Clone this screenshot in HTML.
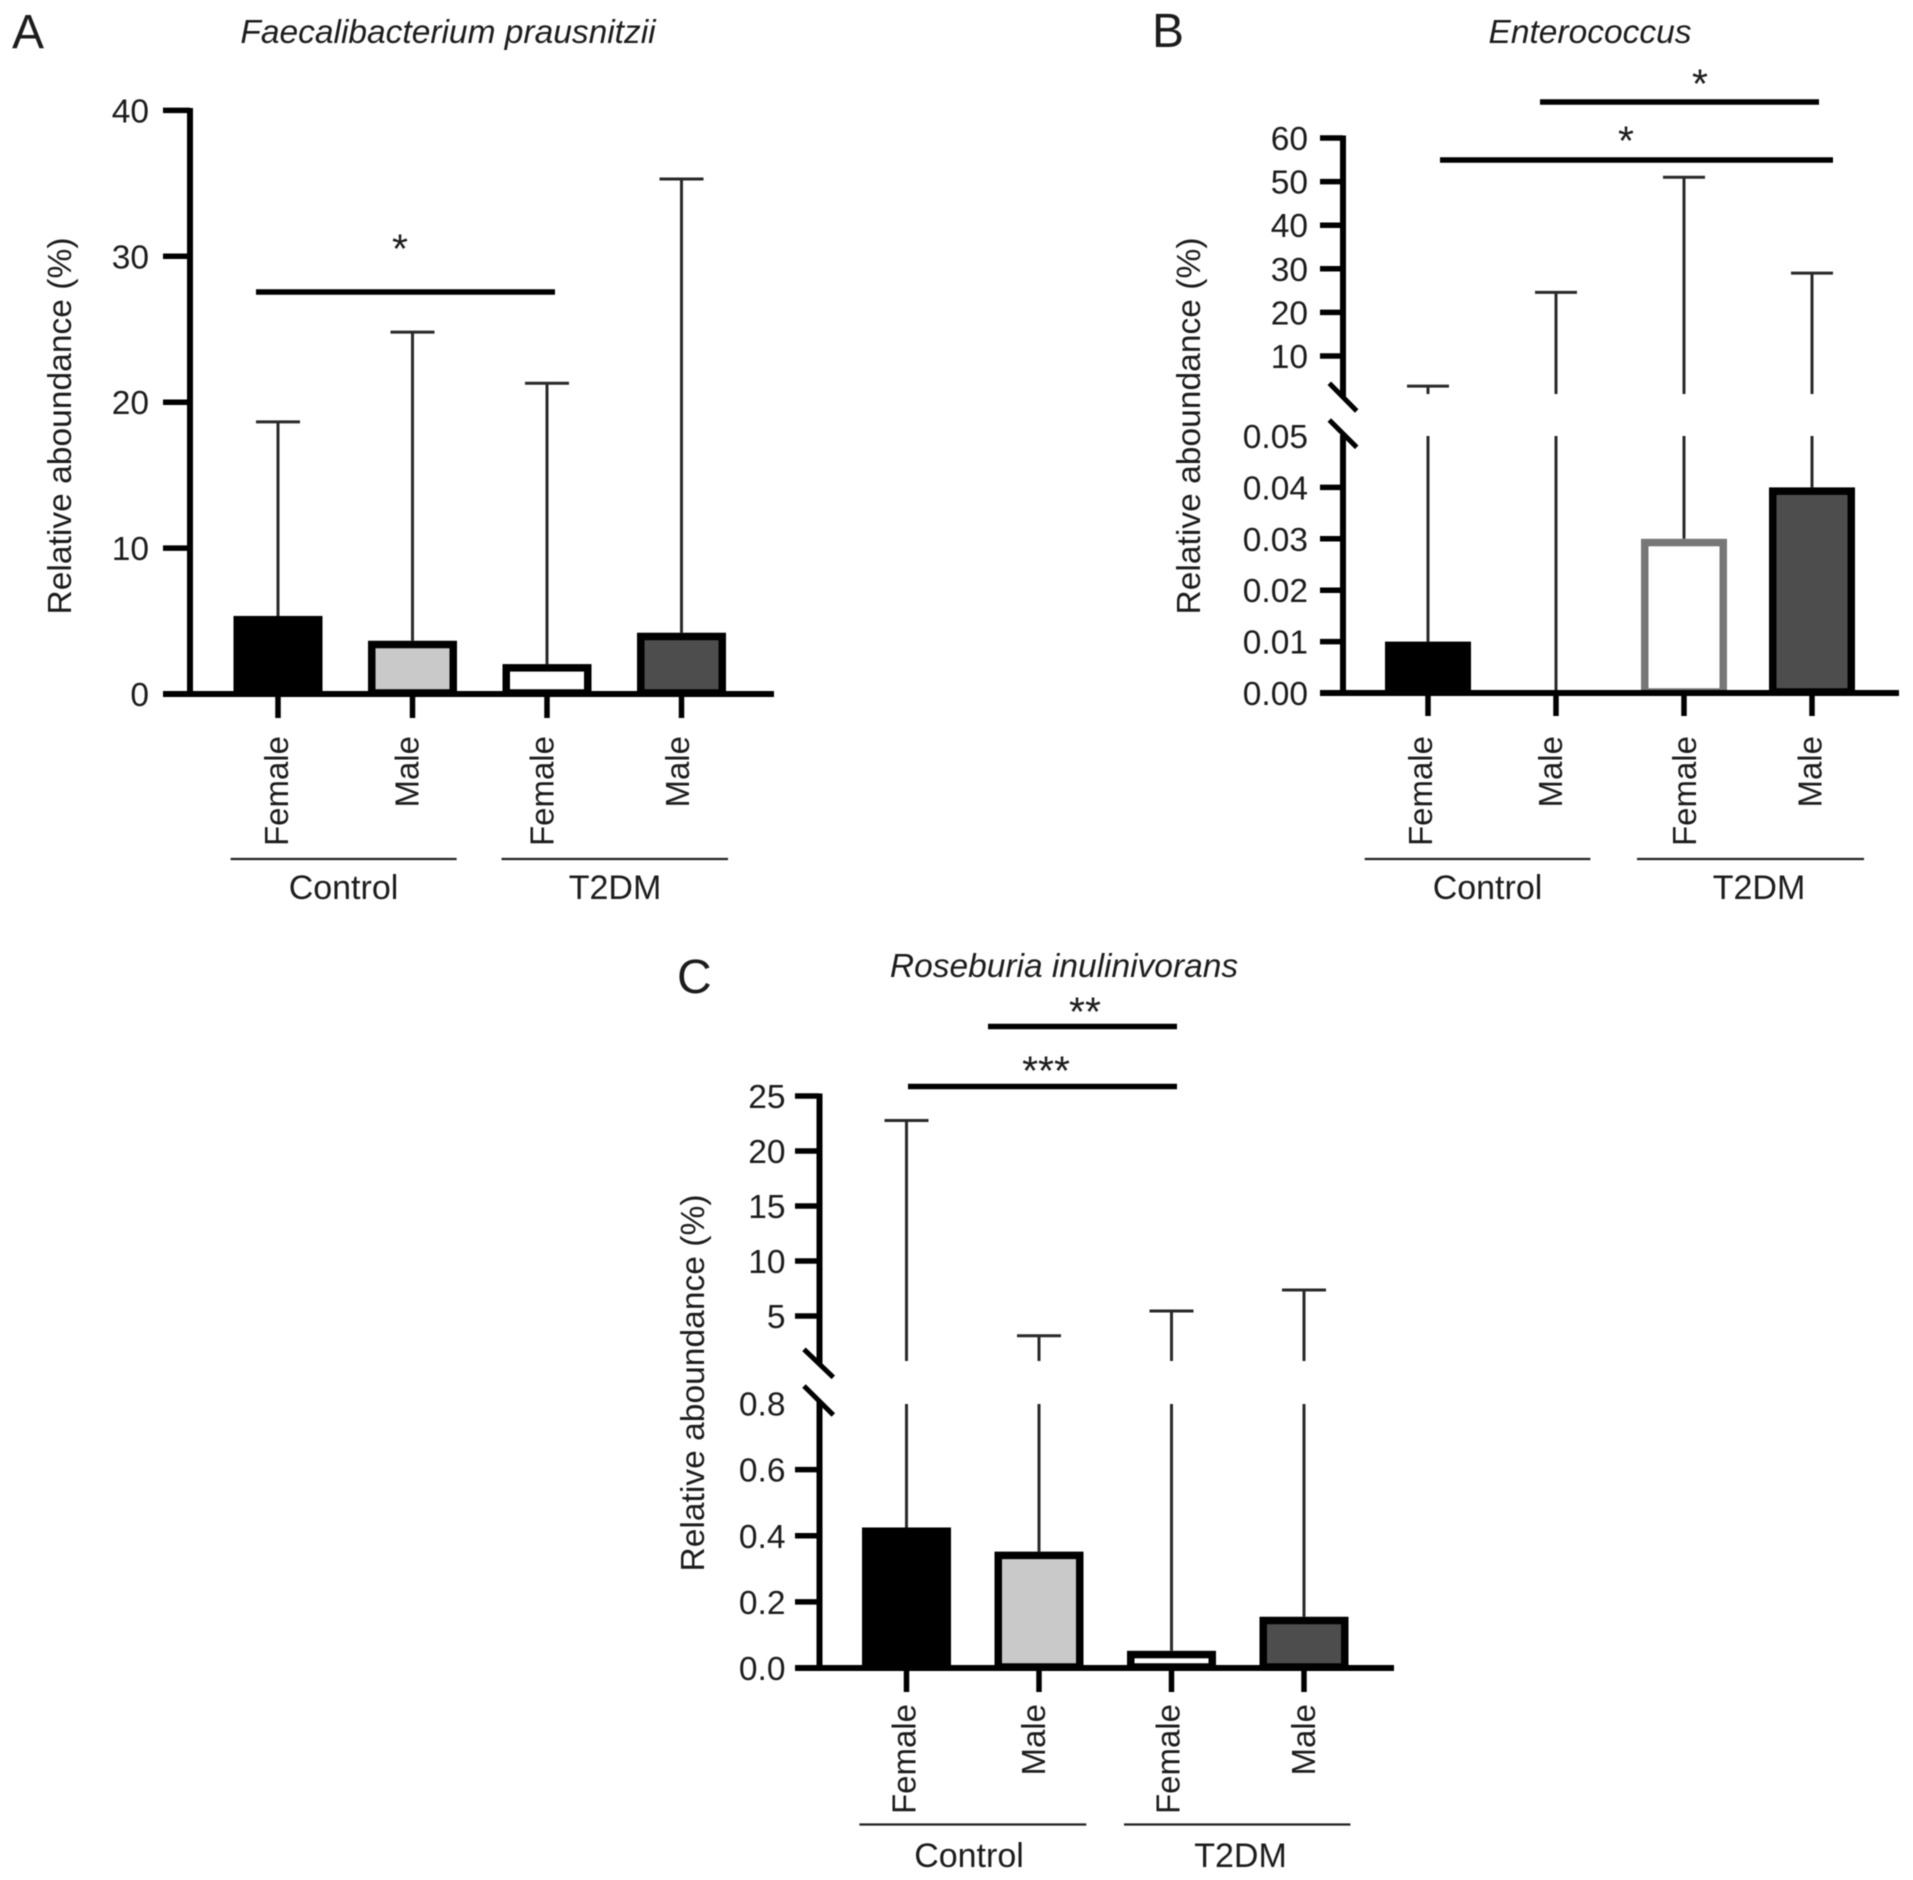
<!DOCTYPE html>
<html lang="en">
<head>
<meta charset="utf-8">
<title>Relative abundance bar charts</title>
<style>
html,body{margin:0;padding:0;background:#fff;}
svg{display:block;filter:blur(0.45px);}
text{font-family:"Liberation Sans",Arial,sans-serif;fill:#1c1c1c;}
</style>
</head>
<body>
<svg id="figure" xmlns="http://www.w3.org/2000/svg" width="1913" height="1880" viewBox="0 0 1913 1880"></svg>
<script>
// ---- data ----
const categories = ['Female', 'Male', 'Female', 'Male'];
const groupNames = ['Control', 'T2DM'];
const yAxisTitle = 'Relative aboundance (%)';

const aMeans = [5.35, 3.65, 2.05, 4.2];
const aUppers = [18.65, 24.8, 21.3, 35.3];
const aTickLabels = ['0', '10', '20', '30', '40'];

const bMeans = [0.01, 0, 0.03, 0.04];
const bUppers = [3.1, 24.6, 51, 29];
const bLowerTickLabels = ['0.00', '0.01', '0.02', '0.03', '0.04', '0.05'];
const bUpperTickLabels = ['10', '20', '30', '40', '50', '60'];

const cMeans = [0.425, 0.352, 0.052, 0.155];
const cUppers = [22.77, 3.2, 5.45, 7.36];
const cLowerTickLabels = ['0.0', '0.2', '0.4', '0.6', '0.8'];
const cUpperTickLabels = ['5', '10', '15', '20', '25'];

// ---- helpers ----
const svg = document.getElementById('figure');
const NS = 'http://www.w3.org/2000/svg';
function mk(parent, tag, attrs, txt) {
  const el = document.createElementNS(NS, tag);
  for (const k in attrs) el.setAttribute(k, attrs[k]);
  if (txt !== undefined) el.textContent = txt;
  parent.appendChild(el);
  return el;
}
function line(parent, x1, y1, x2, y2, w, color) {
  return mk(parent, 'line', {x1: x1, y1: y1, x2: x2, y2: y2, stroke: color, 'stroke-width': w});
}

function linearScale(value0, pixel0, value1, pixel1) {
  return function (v) { return pixel0 + (v - value0) * (pixel1 - pixel0) / (value1 - value0); };
}
function brokenScale(lowerFn, upperFn, lowerMax) {
  return function (v) { return v <= lowerMax ? lowerFn(v) : upperFn(v); };
}

function drawPanel(p) {
  const g = mk(svg, 'g', {});
  
  

  const letter = mk(g, 'text', {x: p.letter[0], y: p.letter[1], 'font-size': 48}, p.letter[2]);
  
  

  const title = mk(g, 'text', {x: p.title[0], y: p.title[1], 'font-size': 33.5, 'font-style': 'italic', 'text-anchor': 'middle'}, p.title[2]);
  
  

  const yTitle = mk(g, 'text', {transform: 'translate(' + p.yTitle[0] + ',' + p.yTitle[1] + ') rotate(-90)', 'font-size': 33.6, 'text-anchor': 'middle'}, yAxisTitle);
  
  

  const y = p.y;
  const y0 = y(0);

  // whiskers
  p.means.forEach(function (mean, i) {
    const cx = p.x(i);
    const up = p.uppers[i];
    if (p.breakLowerValue !== undefined && up > p.breakLowerValue) {
      const lo = line(g, cx, y(mean), cx, p.lowerSegTop, 3, '#2a2a2a');
      
      
      const hi = line(g, cx, p.upperSegBottom, cx, y(up), 3, '#2a2a2a');
      
      
    } else {
      const whisker = line(g, cx, y(mean), cx, y(up), 3, '#2a2a2a');
      
      
    }
    const cap = line(g, cx - p.capW / 2, y(up), cx + p.capW / 2, y(up), 3, '#2a2a2a');
    
    
  });

  // bars
  p.means.forEach(function (mean, i) {
    const cx = p.x(i);
    const sw = 7.5;
    const top = y(mean) + sw / 2;
    const h = Math.max(0, y0 - 1 - top);
    const bar = mk(g, 'rect', {
      x: cx - p.barW / 2 + sw / 2, y: top, width: p.barW - sw, height: mean > 0 ? h : 0,
      fill: p.fills[i], stroke: p.strokes[i], 'stroke-width': sw
    });
    
    
  });

  // x axis + ticks + rotated labels
  const xAxis = line(g, p.xAxis[0], y0, p.xAxis[1], y0, 6, '#000');
  
  
  categories.forEach(function (cat, i) {
    const cx = p.x(i);
    const t = line(g, cx, y0, cx, y0 + p.xTickLen, 5.5, '#000');
    
    
    const lab = mk(g, 'text', {
      transform: 'translate(' + p.labelX[i] + ',' + p.labelTop + ') rotate(-90)',
      'font-size': 33, 'text-anchor': 'end'
    }, cat);
    
    
  });

  // group brackets
  groupNames.forEach(function (name, i) {
    const b = p.groups[i];
    const gl = line(g, b[0], p.groupY, b[1], p.groupY, 2.2, '#222');
    
    
    const gt = mk(g, 'text', {x: b[2], y: p.groupTextY, 'font-size': 34, 'text-anchor': 'middle'}, name);
    
    
  });

  // y axis
  p.axisSegments.forEach(function (s) {
    const seg = line(g, p.axisX, s[0], p.axisX, s[1], 6, '#000');
    
    
  });
  p.tickLabels.forEach(function (label) {
    const v = parseFloat(label);
    const ty = y(v);
    if (!(p.hideTickAt !== undefined && v === p.hideTickAt)) {
      const t = line(g, p.tickLeft, ty, p.axisX, ty, 5.5, '#000');
      
      
    }
    const tl = mk(g, 'text', {x: p.tickRight, y: ty + 12, 'font-size': 33.5, 'text-anchor': 'end'}, label);
    
    
  });
  (p.slashes || []).forEach(function (s) {
    const sl = line(g, s[0], s[1], s[2], s[3], 5, '#000');
    
    
  });

  // significance
  p.sig.forEach(function (s) {
    const sl = line(g, s[0], s[2], s[1], s[2], 5.5, '#000');
    
    
    const st = mk(g, 'text', {x: s[3], y: s[4] + 18.5, 'font-size': 41, 'text-anchor': 'middle'}, s[5]);
    
    
  });
}

const fillsStd = ['#000000', '#c9c9c9', '#ffffff', '#4d4d4d'];

// Panel A
drawPanel({
  id: 'a',
  letter: [12, 48, 'A'],
  title: [448, 43, 'Faecalibacterium prausnitzii'],
  yTitle: [71, 426],
  means: aMeans, uppers: aUppers,
  x: linearScale(0, 278, 3, 681.5),
  y: linearScale(0, 694, 40, 110.4),
  barW: 89, capW: 44,
  fills: fillsStd, strokes: ['#000', '#000', '#000', '#000'],
  xAxis: [163, 774], xTickLen: 24,
  labelX: [288, 418.5, 553.5, 689], labelTop: 736,
  groups: [[230.6, 456.6, 343.5], [501.5, 728, 615]],
  groupY: 859, groupTextY: 899,
  axisX: 190, axisSegments: [[108, 694]],
  tickLeft: 163, tickRight: 149,
  tickLabels: aTickLabels,
  sig: [[256, 555, 292, 400, 244, '*']]
});

// Panel B
const bLower = linearScale(0, 693, 0.05, 436);
const bUpper = linearScale(10, 356, 60, 138);
drawPanel({
  id: 'b',
  letter: [1152, 47, 'B'],
  title: [1590, 43, 'Enterococcus'],
  yTitle: [1200, 426],
  means: bMeans, uppers: bUppers,
  x: linearScale(0, 1428, 3, 1812),
  y: brokenScale(bLower, bUpper, 0.05),
  breakLowerValue: 0.05, lowerSegTop: 436, upperSegBottom: 394,
  barW: 86, capW: 42,
  fills: fillsStd.slice(0, 1).concat(['#ffffff', '#ffffff', '#4d4d4d']),
  strokes: ['#000', '#000', '#777', '#000'],
  xAxis: [1320, 1899], xTickLen: 23,
  labelX: [1432, 1562, 1696, 1821.5], labelTop: 736,
  groups: [[1364.7, 1590.4, 1487.5], [1637, 1864, 1759]],
  groupY: 859, groupTextY: 899,
  axisX: 1343, axisSegments: [[135.5, 397], [435, 693]],
  tickLeft: 1320, tickRight: 1308,
  tickLabels: bLowerTickLabels.concat(bUpperTickLabels),
  hideTickAt: 0.05,
  slashes: [[1329.3, 383.3, 1356.7, 411], [1329.3, 420, 1356.7, 447.3]],
  sig: [[1540, 1819, 102, 1700, 79, '*'], [1440, 1833, 160, 1626, 136, '*']]
});

// Panel C
const cLower = linearScale(0, 1668, 0.8, 1403.5);
const cUpper = linearScale(5, 1316, 25, 1096);
drawPanel({
  id: 'c',
  letter: [677, 993, 'C'],
  title: [1064, 977, 'Roseburia inulinivorans'],
  yTitle: [704, 1383],
  means: cMeans, uppers: cUppers,
  x: linearScale(0, 906.5, 3, 1304),
  y: brokenScale(cLower, cUpper, 0.8),
  breakLowerValue: 0.8, lowerSegTop: 1404, upperSegBottom: 1361,
  barW: 89, capW: 44,
  fills: fillsStd, strokes: ['#000', '#000', '#000', '#000'],
  xAxis: [795, 1394], xTickLen: 24,
  labelX: [915.5, 1045, 1179.5, 1315], labelTop: 1704,
  groups: [[859.4, 1086.3, 969], [1124, 1350.4, 1240.5]],
  groupY: 1824.5, groupTextY: 1867,
  axisX: 819.5, axisSegments: [[1093.5, 1363], [1402, 1668]],
  tickLeft: 795, tickRight: 785.5,
  tickLabels: cLowerTickLabels.concat(cUpperTickLabels),
  hideTickAt: 0.8,
  slashes: [[804, 1349.3, 833.3, 1377.3], [804, 1386, 833.3, 1415]],
  sig: [[988, 1177, 1026.5, 1085, 1007, '**'], [908, 1177, 1086.5, 1046, 1066, '***']]
});
</script>
</body>
</html>
